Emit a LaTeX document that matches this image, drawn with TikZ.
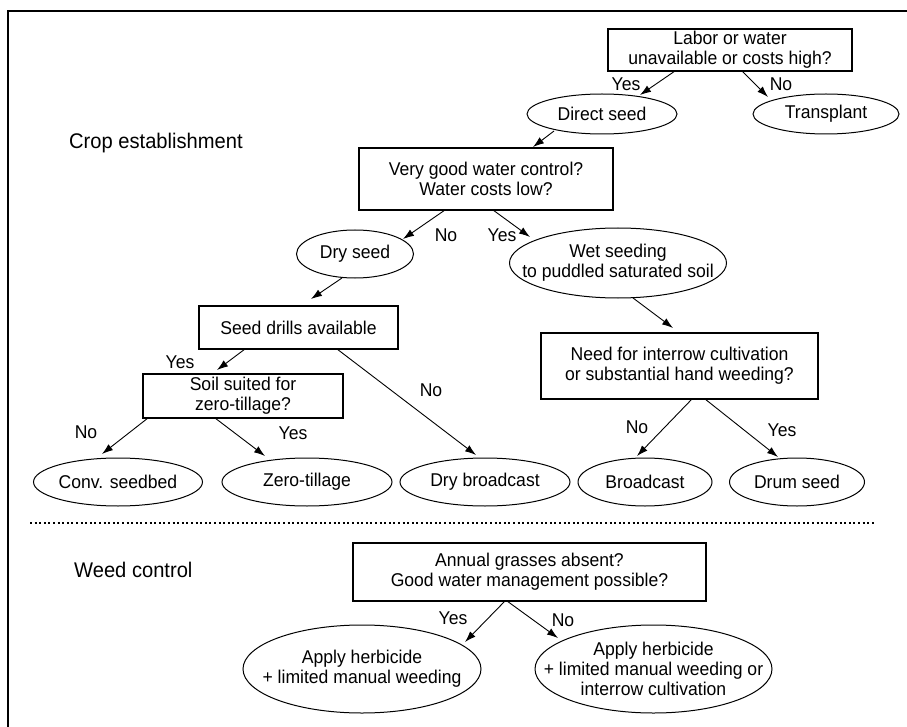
\documentclass[tikz,border=0pt]{standalone}
\usepackage{fontspec}
\setmainfont{Liberation Sans}[FakeStretch=0.95]
\usetikzlibrary{arrows.meta,calc,shapes.geometric}
\begin{document}
\begin{tikzpicture}[x=1pt,y=-1pt,
  txt/.style={font=\fontsize{18.5}{19.8}\selectfont, align=center, inner sep=0pt, text=black},
  head/.style={font=\fontsize{21.2}{24}\selectfont, anchor=west, inner sep=0pt},
  lbl/.style={font=\fontsize{18.5}{19.8}\selectfont, inner sep=0pt},
  box/.style 2 args={draw, line width=1.1pt, rectangle, minimum width=#1pt, minimum height=#2pt, txt},
  ell/.style 2 args={draw, line width=1pt, ellipse, minimum width=#1pt, minimum height=#2pt, inner sep=0pt},
  arr/.style={draw, line width=0.9pt, -{Latex[length=11pt,width=7.5pt]}},
  frame/.style={line width=1.2pt},
  dots/.style={line width=2pt, dash pattern=on 2pt off 2.6pt}
]
\useasboundingbox (0,0) rectangle (907,727);
\draw[frame] (907,11) -- (8,11) -- (8,727);

% --- crop establishment ---
\node[box={244}{42}] (labor) at (730,50) {Labor or water\\unavailable or costs high?};
\node[ell={150}{40}] (direct) at (602,114) {};
\node[txt] (directt) at (direct) {Direct seed};
\node[ell={146}{40}] (transplant) at (826,114) {};
\node[txt] (transplantt) at (transplant) {Transplant};
\node[head] (crop) at (69,143) {Crop establishment};
\node[box={254}{62}] (vgood) at (486,179) {Very good water control?\\Water costs low?};
\node[ell={117}{48}] (dry) at (355,254) {};
\node[txt] (dryt) at (dry) {Dry seed};
\node[ell={217}{70}] (wet) at (618,263) {};
\node[txt] (wett) at (wet) {Wet seeding\\to puddled saturated soil};
\node[box={199}{43}] (drills) at (298.5,327.5) {Seed drills available};
\node[box={277}{66}] (need) at (679.5,366) {Need for interrow cultivation\\or substantial hand weeding?};
\node[box={200}{44}] (soil) at (243,396) {Soil suited for\\zero-tillage?};
\node[ell={169}{48}] (conv) at (118,482) {};
\node[txt] (convt) at (conv) {Conv. seedbed};
\node[ell={170}{48}] (zero) at (307,482) {};
\node[txt] (zerot) at (zero) {Zero-tillage};
\node[ell={170}{48}] (drybc) at (485,482) {};
\node[txt] (drybct) at (drybc) {Dry broadcast};
\node[ell={134}{48}] (bc) at (645,482) {};
\node[txt] (bct) at (bc) {Broadcast};
\node[ell={135}{48}] (drum) at (797,482) {};
\node[txt] (drumt) at (drum) {Drum seed};

% --- separator ---
\coordinate (dotL) at (30,523);
\coordinate (dotR) at (875,523);
\draw[dots] (dotL) -- (dotR);

% --- weed control ---
\node[head] (weed) at (74,570) {Weed control};
\node[box={353}{58}] (annual) at (529.5,572) {Annual grasses absent?\\Good water management possible?};
\node[ell={238}{88}] (herbA) at (362,669) {};
\node[txt] (herbAt) at (herbA) {Apply herbicide\\+ limited manual weeding};
\node[ell={237}{88}] (herbB) at (653.5,669) {};
\node[txt] (herbBt) at (herbB) {Apply herbicide\\+ limited manual weeding or\\interrow cultivation};

% --- connectors ---
\draw[arr] ($(labor.center)+(-55,21)$) -- ($(direct.center)+(38,-19)$);
\draw[arr] ($(labor.center)+(12,21)$) -- ($(transplant.center)+(-58,-17)$);
\draw[arr] ($(direct.center)+(-48,17)$) -- ($(vgood.center)+(47,-32)$);
\draw[arr] ($(vgood.center)+(-41,31)$) -- ($(dry.center)+(48,-15)$);
\draw[arr] ($(vgood.center)+(7,31)$) -- ($(wet.center)+(-88,-26)$);
\draw[arr] ($(dry.center)+(-13,24)$) -- ($(drills.center)+(12.5,-28.5)$);
\draw[arr] ($(wet.center)+(15,35)$) -- ($(need.center)+(-6.5,-38)$);
\draw[arr] ($(drills.center)+(-53.5,21.5)$) -- ($(soil.center)+(-26,-26)$);
\draw[arr] ($(drills.center)+(38.5,21.5)$) -- ($(drybc.center)+(-9,-27)$);
\draw[arr] ($(soil.center)+(-95,22)$) -- ($(conv.center)+(-16,-28)$);
\draw[arr] ($(soil.center)+(-28,22)$) -- ($(zero.center)+(-42,-26)$);
\draw[arr] ($(need.center)+(12.5,33)$) -- ($(bc.center)+(-8,-26)$);
\draw[arr] ($(need.center)+(25.5,33)$) -- ($(drum.center)+(-19,-25)$);
\draw[arr] ($(annual.center)+(-24.5,29)$) -- ($(herbA.center)+(103,-27)$);
\draw[arr] ($(annual.center)+(-22.5,29)$) -- ($(herbB.center)+(-95.5,-31)$);

% --- labels ---
\node[lbl] (y1) at (626,84) {Yes};
\node[lbl] (n1) at (781,84) {No};
\node[lbl] (n2) at (446,235) {No};
\node[lbl] (y2) at (502,235) {Yes};
\node[lbl] (y3) at (180,362) {Yes};
\node[lbl] (n3) at (431,390) {No};
\node[lbl] (n4) at (86,432) {No};
\node[lbl] (y4) at (293,433) {Yes};
\node[lbl] (n5) at (637,427) {No};
\node[lbl] (y5) at (782,430) {Yes};
\node[lbl] (y6) at (453,618) {Yes};
\node[lbl] (n6) at (563,620) {No};
\end{tikzpicture}
\end{document}
